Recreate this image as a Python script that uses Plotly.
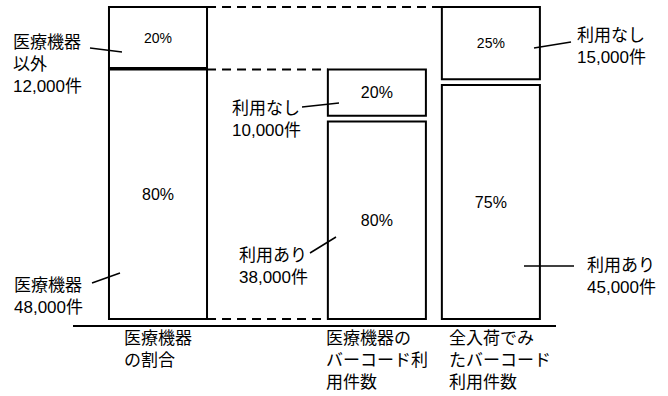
import plotly.graph_objects as go

# ---- data ----
categories = ["医療機器<br>の割合", "医療機器の<br>バーコード利<br>用件数", "全入荷でみ<br>たバーコード<br>利用件数"]
lower_vals = [48000, 38000, 45000]
upper_vals = [12000, 10000, 15000]
lower_pct = ["80%", "80%", "75%"]
upper_pct = ["20%", "20%", "25%"]
lower_names = ["医療機器", "利用あり", "利用あり"]
upper_names = ["医療機器<br>以外", "利用なし", "利用なし"]

# ---- layout constants ----
x_pos = [0, 1.92, 2.92]
bar_w = 0.86
gaps = [250, 1100, 1100]
FONT = "Liberation Sans, Noto Sans CJK JP, sans-serif"
W, H = 668, 396
ML, MR, MT, MB = 73, 112, 0, 71
PW, PH = W - ML - MR, H - MT - MB

def px(x):
    return (x - ML) / PW

def py(y):
    return (H - MB - y) / PH

totals = [l + u for l, u in zip(lower_vals, upper_vals)]

fig = go.Figure()

# lower segments
fig.add_trace(go.Bar(
    x=x_pos, y=lower_vals, base=[0] * 3, width=bar_w,
    marker=dict(color="white", line=dict(color="black", width=2)),
    text=lower_pct, textposition="inside", insidetextanchor="middle",
    textangle=0, constraintext="none",
    textfont=dict(family=FONT, size=[16, 16, 16], color="black"),
    hoverinfo="skip", showlegend=False,
))
# upper segments
fig.add_trace(go.Bar(
    x=x_pos, y=[u - g for u, g in zip(upper_vals, gaps)],
    base=[l + g for l, g in zip(lower_vals, gaps)], width=bar_w,
    marker=dict(color="white", line=dict(color="black", width=2)),
    text=upper_pct, textposition="inside", insidetextanchor="middle",
    textangle=0, constraintext="none",
    textfont=dict(family=FONT, size=[14, 16, 14], color="black"),
    hoverinfo="skip", showlegend=False,
))

# dashed connectors
dash = dict(color="black", width=2, dash="9px,6px")
fig.add_trace(go.Scatter(x=[x_pos[0] + bar_w / 2, x_pos[2] - bar_w / 2],
                         y=[totals[0], totals[2]], mode="lines", line=dash,
                         hoverinfo="skip", showlegend=False))
fig.add_trace(go.Scatter(x=[x_pos[0] + bar_w / 2, x_pos[1] - bar_w / 2],
                         y=[lower_vals[0], totals[1]], mode="lines", line=dash,
                         hoverinfo="skip", showlegend=False))
fig.add_trace(go.Scatter(x=[x_pos[0] + bar_w / 2, x_pos[1] - bar_w / 2],
                         y=[0, 0], mode="lines", line=dash,
                         hoverinfo="skip", showlegend=False))

annotations = []
# category labels
shifts = [0, 0, 9]
for xp, cat, s in zip(x_pos, categories, shifts):
    annotations.append(dict(x=xp, y=0, xref="x", yref="paper", text=cat,
                            showarrow=False, xanchor="center", yanchor="top",
                            align="left", yshift=-2, xshift=s,
                            font=dict(family=FONT, size=17, color="black")))

# side labels: (text, left px, center y px)
side = [
    (f"{upper_names[0]}<br>{upper_vals[0]:,}件", 11, 65),
    (f"{lower_names[0]}<br>{lower_vals[0]:,}件", 12, 296),
    (f"{upper_names[1]}<br>{upper_vals[1]:,}件", 230, 119),
    (f"{lower_names[1]}<br>{lower_vals[1]:,}件", 237, 266),
    (f"{upper_names[2]}<br>{upper_vals[2]:,}件", 575, 47),
    (f"{lower_names[2]}<br>{lower_vals[2]:,}件", 585, 276),
]
for t, lx, cy in side:
    annotations.append(dict(x=px(lx), y=py(cy), xref="paper", yref="paper",
                            text=t, showarrow=False, xanchor="left",
                            yanchor="middle", align="left",
                            font=dict(family=FONT, size=17, color="black")))

leaders = [
    ((90, 48), (122, 52)),
    ((92, 283), (120, 273)),
    ((302, 107), (339, 103)),
    ((310, 253), (336, 237)),
    ((534, 48), (571, 42)),
    ((524, 266), (574, 266)),
]
shapes = []
for (x0, y0), (x1, y1) in leaders:
    shapes.append(dict(type="line", xref="paper", yref="paper",
                       x0=px(x0), y0=py(y0), x1=px(x1), y1=py(y1),
                       line=dict(color="black", width=1.5)))

unit_px = 114
fig.update_layout(
    width=W, height=H,
    margin=dict(l=ML, r=MR, t=MT, b=MB, pad=0),
    paper_bgcolor="white", plot_bgcolor="white",
    barmode="overlay",
    xaxis=dict(range=[-(158 - ML) / unit_px, (W - MR - 158) / unit_px],
               showline=True, linecolor="black", linewidth=2,
               showgrid=False, zeroline=False, showticklabels=False,
               ticks="", fixedrange=True),
    yaxis=dict(range=[-6 / 0.0052, 319 / 0.0052], visible=False,
               fixedrange=True),
    annotations=annotations,
    shapes=shapes,
    font=dict(family=FONT, color="black"),
)

fig.write_html("out.html")
